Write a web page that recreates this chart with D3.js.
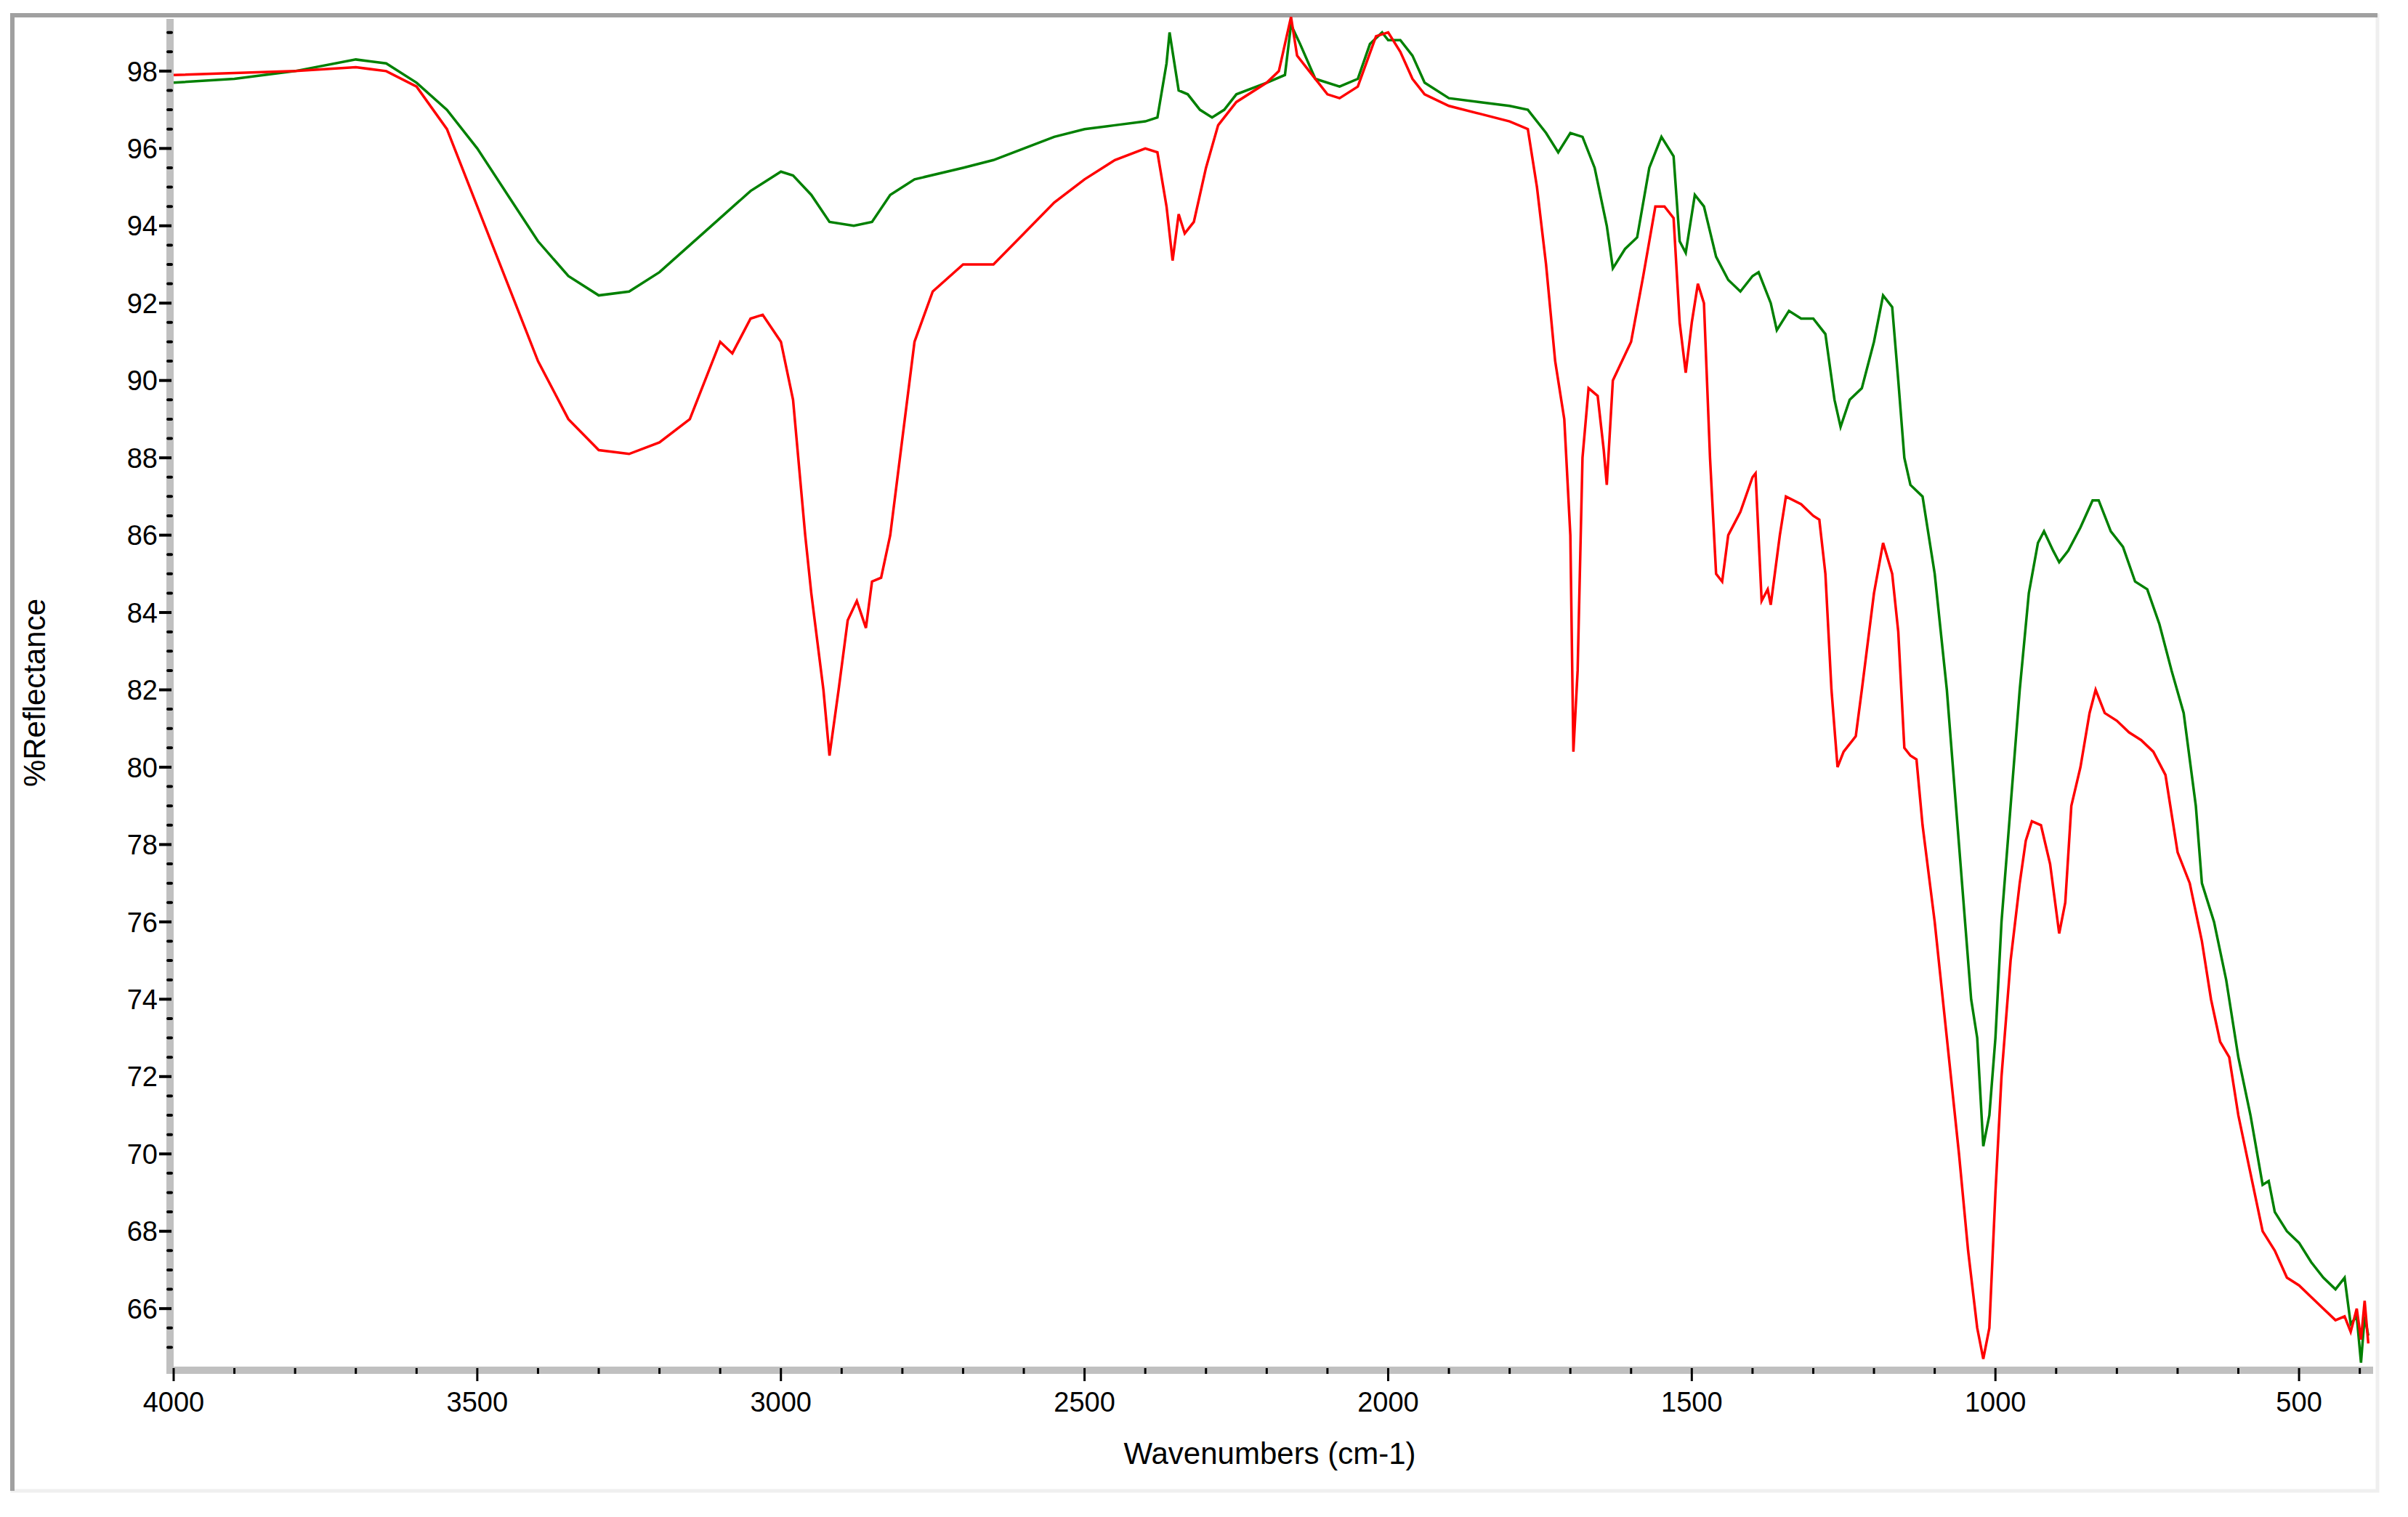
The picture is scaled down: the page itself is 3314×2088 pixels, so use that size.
<!DOCTYPE html>
<html><head><meta charset="utf-8">
<script src="https://cdn.jsdelivr.net/npm/d3@7"></script>
<style>body{margin:0;background:#fff}svg{display:block;font-family:"Liberation Sans",Arial,sans-serif}</style>
</head><body><svg id="c" width="3314" height="2088"></svg>
<script>
const redWn = [4000,3800,3700,3650,3600,3550,3500,3450,3400,3350,3300,3250,3200,3150,3100,3080,3050,3030,3000,2980,2960,2950,2930,2920,2905,2890,2875,2860,2850,2835,2820,2800,2780,2750,2700,2650,2600,2550,2500,2450,2400,2380,2365,2355,2345,2335,2320,2300,2280,2250,2200,2180,2160,2150,2130,2100,2080,2050,2020,2000,1980,1960,1940,1900,1850,1800,1770,1755,1740,1725,1710,1700,1695,1688,1680,1670,1655,1645,1640,1630,1600,1580,1560,1545,1530,1520,1510,1500,1490,1480,1470,1460,1450,1440,1420,1400,1395,1385,1375,1370,1355,1345,1320,1300,1290,1280,1270,1260,1250,1230,1220,1200,1185,1170,1160,1150,1140,1130,1120,1100,1080,1060,1045,1030,1020,1010,1000,990,975,960,950,940,925,910,895,885,875,860,845,835,820,800,780,760,740,720,700,680,660,645,630,615,600,580,560,540,520,500,480,460,440,425,415,405,398,392,386];
const redVal = [97.9,98.0,98.1,98.0,97.6,96.5,94.5,92.5,90.5,89,88.2,88.1,88.4,89,91.0,90.7,91.6,91.7,91.0,89.5,86,84.5,82,80.3,82,83.8,84.3,83.6,84.8,84.9,86,88.5,91,92.3,93.0,93.0,93.8,94.6,95.2,95.7,96.0,95.9,94.5,93.1,94.3,93.8,94.1,95.5,96.6,97.2,97.7,98.0,99.4,98.4,98.0,97.4,97.3,97.6,98.9,99.0,98.5,97.8,97.4,97.1,96.9,96.7,96.5,95,93,90.5,89,86,80.4,82.5,88,89.8,89.6,88.2,87.3,90,91,92.7,94.5,94.5,94.2,91.5,90.2,91.5,92.5,92,88,85,84.8,86,86.6,87.5,87.6,84.3,84.6,84.2,86,87,86.8,86.5,86.4,85,82,80,80.4,80.8,82,84.5,85.8,85,83.5,80.5,80.3,80.2,78.5,76,73,70,67.5,65.5,64.7,65.5,69,72,75,77,78.1,78.6,78.5,77.5,75.7,76.5,79,80,81.4,82,81.4,81.2,80.9,80.7,80.4,79.8,77.8,77,75.5,74,72.9,72.5,71,69.5,68,67.5,66.8,66.6,66.3,66.0,65.7,65.8,65.4,66.0,65.2,66.2,65.1];
const greenWn = [4000,3900,3800,3700,3650,3600,3550,3500,3450,3400,3350,3300,3250,3200,3150,3100,3050,3000,2980,2950,2920,2880,2850,2820,2780,2700,2650,2600,2550,2500,2450,2400,2380,2365,2360,2345,2330,2310,2290,2270,2250,2200,2170,2160,2145,2120,2080,2050,2030,2010,2000,1980,1960,1940,1900,1850,1800,1770,1740,1720,1700,1680,1660,1640,1630,1610,1590,1570,1550,1530,1520,1510,1495,1480,1460,1440,1420,1400,1390,1370,1360,1340,1320,1300,1280,1265,1255,1240,1220,1200,1185,1170,1160,1150,1140,1120,1100,1080,1060,1040,1030,1020,1010,1000,990,975,960,945,930,920,905,895,880,860,840,830,810,790,770,750,730,710,690,670,660,640,620,600,580,560,550,540,520,500,480,460,440,425,415,405,398,392,386];
const greenVal = [97.7,97.8,98.0,98.3,98.2,97.7,97,96,94.8,93.6,92.7,92.2,92.3,92.8,93.5,94.2,94.9,95.4,95.3,94.8,94.1,94.0,94.1,94.8,95.2,95.5,95.7,96.0,96.3,96.5,96.6,96.7,96.8,98.2,99.0,97.5,97.4,97.0,96.8,97.0,97.4,97.7,97.9,99.2,98.7,97.8,97.6,97.8,98.7,99.0,98.8,98.8,98.4,97.7,97.3,97.2,97.1,97.0,96.4,95.9,96.4,96.3,95.5,94,92.9,93.4,93.7,95.5,96.3,95.8,93.6,93.3,94.8,94.5,93.2,92.6,92.3,92.7,92.8,92.0,91.3,91.8,91.6,91.6,91.2,89.5,88.8,89.5,89.8,91,92.2,91.9,90,88,87.3,87,85,82,78,74,73,70.2,71,73,76,79,82,84.5,85.8,86.1,85.6,85.3,85.6,86.2,86.9,86.9,86.1,85.7,84.8,84.6,83.7,82.5,81.4,79,77,76,74.5,72.5,71,69.2,69.3,68.5,68,67.7,67.2,66.8,66.5,66.8,65.6,65.8,64.6,65.8,65.3];
const xTicks = [4000,3500,3000,2500,2000,1500,1000,500];
const yTicks = [66,68,70,72,74,76,78,80,82,84,86,88,90,92,94,96,98];

const svg = d3.select("#c");
const L=239, R=3256, T=26, B=1881;
const x = d3.scaleLinear().domain([4000,390]).range([L,R]);
const y = d3.scaleLinear().domain([64.5,99.35]).range([B,T]);

svg.append("rect").attr("x",17).attr("y",21).attr("width",3255).attr("height",2031).attr("fill","#fff").attr("stroke","#efefef").attr("stroke-width",5);
svg.append("path").attr("d",`M17,2052V21H3272`).attr("fill","none").attr("stroke","#a0a0a0").attr("stroke-width",6);

const g = svg.append("g");
const line = d3.line().x(d=>x(d[0])).y(d=>y(d[1]));
g.append("path").datum(d3.zip(greenWn,greenVal)).attr("d",line).attr("fill","none").attr("stroke","#008000").attr("stroke-width",3.5);
g.append("path").datum(d3.zip(redWn,redVal)).attr("d",line).attr("fill","none").attr("stroke","#ff0000").attr("stroke-width",3.5);

svg.append("rect").attr("x",L-10).attr("y",T).attr("width",10).attr("height",B-T+10).attr("fill","#c0c0c0");
svg.append("rect").attr("x",L-10).attr("y",B).attr("width",R-L+20).attr("height",10).attr("fill","#c0c0c0");

const yMinor = d3.range(65,99.3,0.5).filter(v=>v%2!==0);
svg.selectAll(".ym").data(yMinor).join("line").attr("x1",L-8).attr("x2",L-3).attr("y1",d=>y(d)).attr("y2",d=>y(d)).attr("stroke","#000").attr("stroke-width",4).attr("stroke-linecap","round");
svg.selectAll(".yM").data(yTicks).join("line").attr("x1",L-20).attr("x2",L-3).attr("y1",d=>y(d)).attr("y2",d=>y(d)).attr("stroke","#000").attr("stroke-width",4);
svg.selectAll(".yl").data(yTicks).join("text").attr("x",L-22).attr("y",d=>y(d)).attr("dy","0.36em").attr("text-anchor","end").attr("font-size",38).text(d=>d);

const xMinor = d3.range(4000,390,-100).filter(v=>v%500!==0);
svg.selectAll(".xm").data(xMinor).join("line").attr("x1",d=>x(d)).attr("x2",d=>x(d)).attr("y1",B+2).attr("y2",B+10).attr("stroke","#000").attr("stroke-width",3);
svg.selectAll(".xM").data(xTicks).join("line").attr("x1",d=>x(d)).attr("x2",d=>x(d)).attr("y1",B+2).attr("y2",B+20).attr("stroke","#000").attr("stroke-width",3);
svg.selectAll(".xl").data(xTicks).join("text").attr("x",d=>x(d)).attr("y",B+62).attr("text-anchor","middle").attr("font-size",38).text(d=>d);

svg.append("text").attr("x",(L+R)/2).attr("y",2015).attr("text-anchor","middle").attr("font-size",42).text("Wavenumbers (cm-1)");
svg.append("text").attr("transform",`translate(62,${(T+B)/2}) rotate(-90)`).attr("text-anchor","middle").attr("font-size",42).text("%Reflectance");
</script></body></html>
